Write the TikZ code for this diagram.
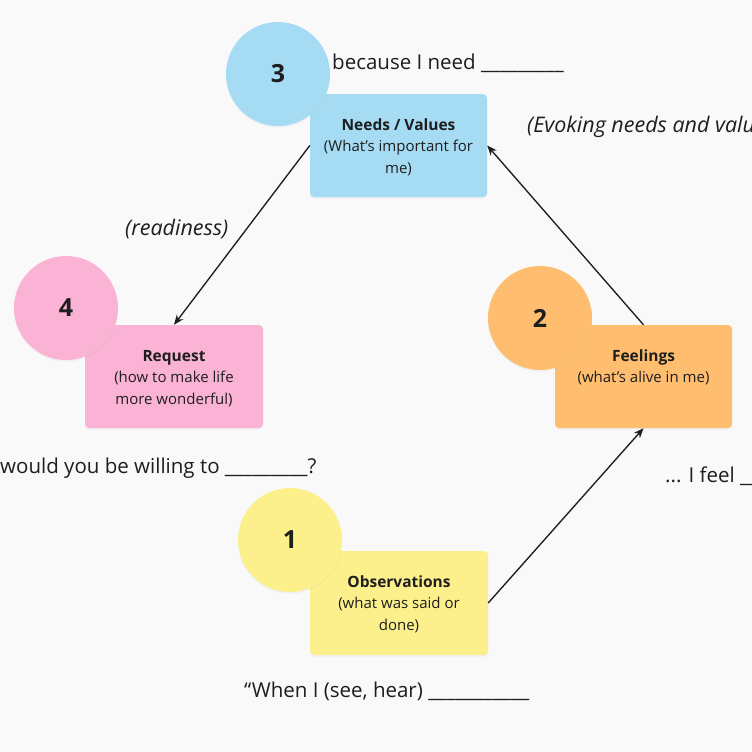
\documentclass[tikz,border=0pt]{standalone}
\usepackage{fontspec}
\setmainfont{Open Sans}
\usetikzlibrary{arrows.meta,shadows}
\definecolor{bg}{HTML}{F9F9FA}
\definecolor{ink}{HTML}{1E1E1E}
\definecolor{cblue}{HTML}{A5DCF4}
\definecolor{cpink}{HTML}{FBB3D5}
\definecolor{corange}{HTML}{FFBE6F}
\definecolor{cyellow}{HTML}{FBF08C}
\tikzset{
  card/.style={draw=none, rounded corners=4pt, minimum width=177pt, minimum height=103pt,
    drop shadow={shadow xshift=0pt, shadow yshift=-1.5pt, opacity=0.08}},
  badge/.style={circle, draw=none, minimum size=104pt, inner sep=0pt, text=ink,
    font=\fontsize{25}{25}\selectfont\bfseries,
    drop shadow={shadow xshift=0pt, shadow yshift=-1.5pt, opacity=0.08}},
  cardtext/.style={anchor=base, inner sep=0pt, text=ink},
  phrase/.style={anchor=base west, inner sep=0pt, text=ink, font=\fontsize{20.5}{24}\selectfont},
  note/.style={anchor=base west, inner sep=0pt, text=ink, font=\fontsize{21.5}{24}\selectfont\itshape},
  flow/.style={draw=ink, line width=1.35pt, -{Stealth[length=10pt,width=8pt]}}
}
\newcommand{\cardlines}[2]{\parbox[t]{176pt}{\centering\fontsize{15}{21.5}\selectfont{\fontsize{15.5}{21.5}\selectfont\textbf{#1}}\\#2}}
\begin{document}
\begin{tikzpicture}[x=1pt,y=-1pt]
\useasboundingbox (0,0) rectangle (752,752);
\clip (0,0) rectangle (752,752);
\fill[bg] (0,0) rectangle (752,752);

% cards
\node[card, fill=cblue] (b3) at (398.5,145.5) {};
\node[card, fill=cpink, minimum width=178pt] (b4) at (174,376.5) {};
\node[card, fill=corange] (b2) at (643.5,376.5) {};
\node[card, fill=cyellow, minimum width=178pt, minimum height=104pt] (b1) at (399,603) {};

% card texts
\node[cardtext] (t3) at ([yshift=-36.5pt]b3.north) {\cardlines{Needs / Values}{(What's important for\\me)}};
\node[cardtext] (t4) at ([yshift=-36.5pt]b4.north) {\cardlines{Request}{(how to make life\\more wonderful)}};
\node[cardtext] (t2) at ([yshift=-36.5pt]b2.north) {\cardlines{Feelings}{(what's alive in me)}};
\node[cardtext] (t1) at ([yshift=-36.5pt]b1.north) {\cardlines{Observations}{(what was said or\\done)}};

% badges
\node[badge, fill=cblue] (c3) at (278,74) {3};
\node[badge, fill=cpink] (c4) at (66,308) {4};
\node[badge, fill=corange] (c2) at (540,318) {2};
\node[badge, fill=cyellow] (c1) at (290,540) {1};

% connectors
\draw[flow] (b3.west) -- (b4.north);
\draw[flow] (b2.north) -- (b3.east);
\draw[flow] (b1.east) -- (b2.south);

% phrases
\node[phrase] (p3) at (332,70) {because I need \_\_\_\_\_\_\_\_\_};
\node[note] (n3) at (527,132) {(Evoking needs and values)};
\node[note] (n4) at (125,235) {(readiness)};
\node[phrase] (p4) at (0,473) {would you be willing to \_\_\_\_\_\_\_\_\_?};
\node[phrase] (p2) at (665,482) {... I feel \_\_\_\_\_\_\_};
\node[phrase] (p1) at (244,697) {“When I (see, hear) \_\_\_\_\_\_\_\_\_\_\_};
\end{tikzpicture}
\end{document}
